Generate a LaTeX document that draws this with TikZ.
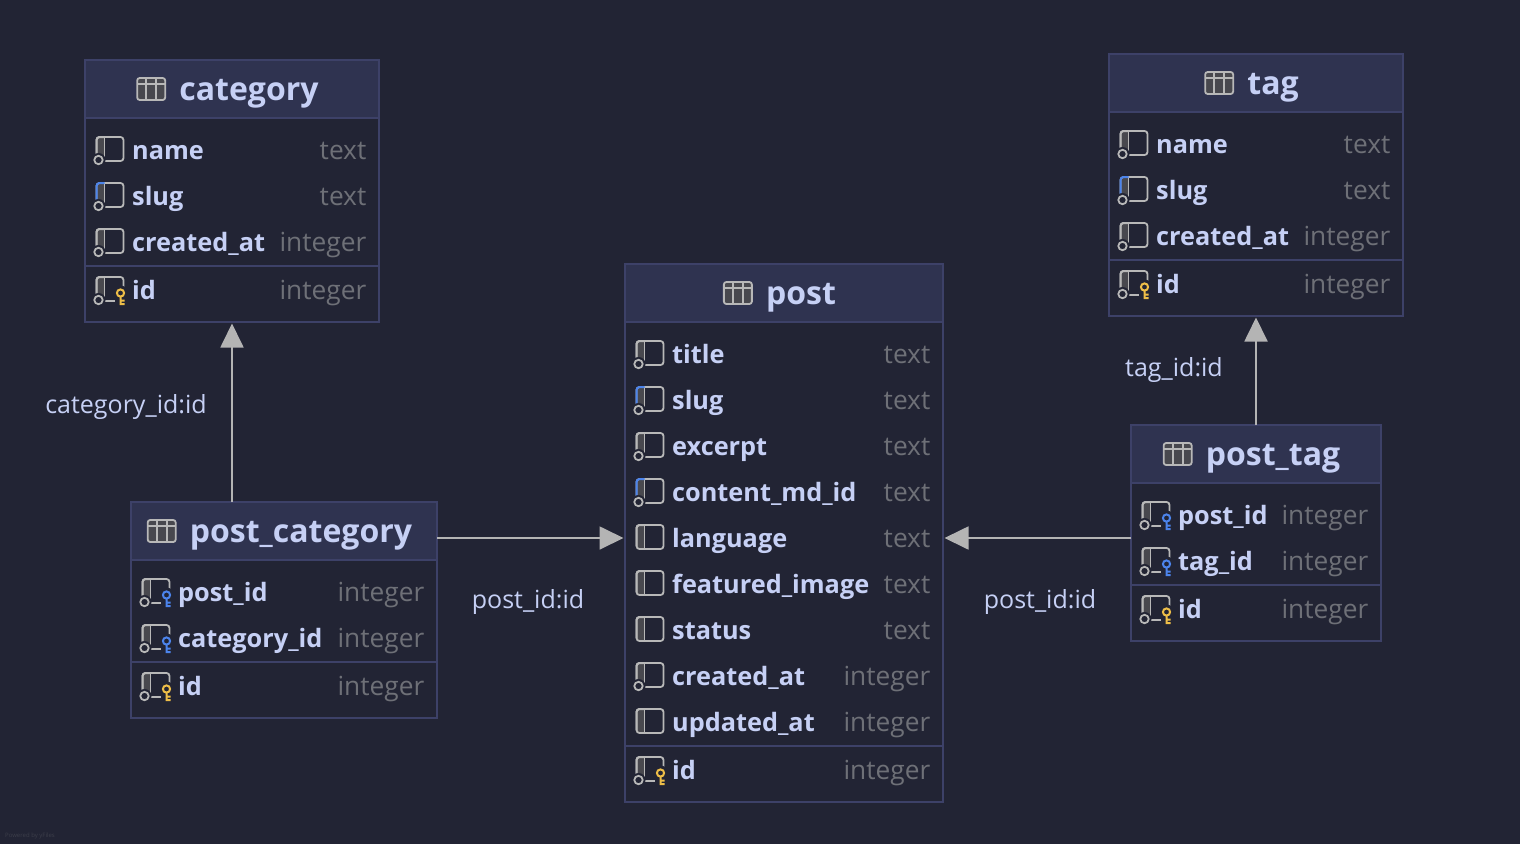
\documentclass[tikz,border=0pt]{standalone}
\usepackage{fontspec}
\setmainfont{Open Sans}
\usetikzlibrary{arrows.meta, positioning, calc}
\definecolor{pagebg}{HTML}{222434}
\definecolor{headfill}{HTML}{2F3350}
\definecolor{tableline}{HTML}{3D4168}
\definecolor{nametext}{HTML}{C6D0F5}
\definecolor{typetext}{HTML}{6E7077}
\definecolor{icongray}{HTML}{B8B8B8}
\definecolor{stripgray}{HTML}{48484E}
\definecolor{keyblue}{HTML}{4C84EC}
\definecolor{keygold}{HTML}{EEBE48}
\definecolor{arrowgray}{HTML}{B4B4B4}
\definecolor{footgray}{HTML}{3C3E4A}

% icon parts, origin at the left end of the row centre
\newcommand{\colframe}[1]{%
  \fill[stripgray, rounded corners=3pt] (0,-13) -- (8,-13) -- (8,11) -- (0,11) -- cycle;
  \draw[icongray, line width=1.8pt, rounded corners=3pt] (0,-13) rectangle (27,11);
  \draw[icongray, line width=1.8pt] (8,-13) -- (8,11);
  \draw[#1, line width=2pt, rounded corners=3pt] (8,-13) -- (0,-13) -- (0,8);
}
\newcommand{\colring}{%
  \fill[pagebg] (2,10) circle (7);
  \draw[icongray, line width=1.8pt] (2,10) circle (4.2);
}
\newcommand{\colkey}[1]{%
  \fill[pagebg] (24,3) circle (7.5);
  \fill[pagebg] (18,3) rectangle (31,17);
  \draw[#1, line width=2pt] (24,3) circle (3.6) (24,6.6) -- (24,15) (24,14) -- (28,14) (24,10.5) -- (28,10.5);
}

% one table: name, top left corner, width, height, title, rows
\newcommand{\dbtable}[6]{%
  \node[tablebox, minimum width=#3pt, minimum height=#4pt, anchor=north west] (#1) at #2 {};
  \node[headbox, minimum width=#3pt, anchor=north] (#1-head) at (#1.north) {};
  \node[titletext, xshift=17pt] (#1-title) at (#1-head.center) {#5};
  \pic at ([xshift=-14pt]#1-title.west) {tableicon};
  \foreach \colname/\coltype/\ico [count=\i from 0] in {#6} {
    \pic at ($(#1-head.south west)+(11.5,32+46*\i)$) {col\ico};
    \node[rowname, anchor=west] (#1-r\i) at ($(#1-head.south west)+(47,32+46*\i)$) {\colname};
    \node[rowtype, anchor=east] (#1-t\i) at ($(#1-head.south east)+(-12.5,32+46*\i)$) {\coltype};
  }
  \draw[tableline, line width=1.5pt] ($(#1.south west)+(0,-56)$) -- ($(#1.south east)+(0,-56)$);
  \pic at ($(#1.south west)+(11.5,-32)$) {colp};
  \node[rowname, anchor=west] (#1-id) at ($(#1.south west)+(47,-32)$) {id};
  \node[rowtype, anchor=east] (#1-idt) at ($(#1.south east)+(-12.5,-32)$) {integer};
}

\begin{document}
\begin{tikzpicture}[
  x=1pt, y=-1pt,
  tablebox/.style={draw=tableline, line width=1.5pt, fill=pagebg, inner sep=0pt, outer sep=0pt},
  headbox/.style={draw=tableline, line width=1.5pt, fill=headfill, minimum height=58pt, inner sep=0pt, outer sep=0pt},
  titletext/.style={text=nametext, font=\bfseries\fontsize{32}{36}\selectfont, inner sep=0pt, text height=22pt, text depth=0pt},
  rowname/.style={text=nametext, font=\bfseries\fontsize{25.3}{30}\selectfont, inner sep=0pt, text height=18pt, text depth=0pt},
  rowtype/.style={text=typetext, font=\fontsize{26.3}{30}\selectfont, inner sep=0pt, text height=18pt, text depth=0pt},
  linktext/.style={text=nametext, font=\fontsize{25}{28}\selectfont, inner sep=0pt},
  arr/.style={-{Triangle[width=23pt, length=24pt]}, arrowgray, line width=1.8pt, shorten >=1.5pt},
  pics/cola/.style={code={\colframe{icongray}\colring}},
  pics/colu/.style={code={\colframe{keyblue}\colring}},
  pics/coln/.style={code={\colframe{icongray}}},
  pics/colf/.style={code={\colframe{icongray}\colring\colkey{keyblue}}},
  pics/colp/.style={code={\colframe{icongray}\colring\colkey{keygold}}},
  pics/tableicon/.style={code={
    \draw[icongray, fill=stripgray, line width=1.8pt, rounded corners=2.5pt] (-28,-11) rectangle (0,11);
    \draw[icongray, line width=1.8pt] (-28,-5) -- (0,-5) (-19,-11) -- (-19,11) (-9,-11) -- (-9,11);
  }}
]
  \useasboundingbox (0,0) rectangle (1520,844);
  \fill[pagebg] (0,0) rectangle (1520,844);

  % - tables -
  \dbtable{category}{(85,60)}{294}{262}{category}{name/text/a, slug/text/u, created\_at/integer/a}
  \dbtable{tag}{(1109,54)}{294}{262}{tag}{name/text/a, slug/text/u, created\_at/integer/a}
  \dbtable{post}{(625,264)}{318}{538}{post}{title/text/a, slug/text/u, excerpt/text/a,
    content\_md\_id/text/u, language/text/n, featured\_image/text/n, status/text/n,
    created\_at/integer/a, updated\_at/integer/n}
  \dbtable{pcat}{(131,502)}{306}{216}{post\_category}{post\_id/integer/f, category\_id/integer/f}
  \dbtable{ptag}{(1131,425)}{250}{216}{post\_tag}{post\_id/integer/f, tag\_id/integer/f}

  % - arrows -
  \draw[arr] (pcat.north -| category.south) -- (category.south);
  \draw[arr] (ptag.north) -- (tag.south);
  \draw[arr] (pcat.east |- post-r4) -- (post.west |- post-r4);
  \draw[arr] (ptag.west |- post-r4) -- (post.east |- post-r4);

  % - labels -
  \node[linktext] (catlabel) at (126,407) {category\_id:id};
  \node[linktext] (taglabel) at (1174,370) {tag\_id:id};
  \node[linktext] (pcatlabel) at (528,602) {post\_id:id};
  \node[linktext] (ptaglabel) at (1040,602) {post\_id:id};
  \node[text=footgray, font=\fontsize{6}{7}\selectfont, anchor=west, inner sep=0pt] (poweredby) at (5,836) {Powered by yFiles};
\end{tikzpicture}
\end{document}
